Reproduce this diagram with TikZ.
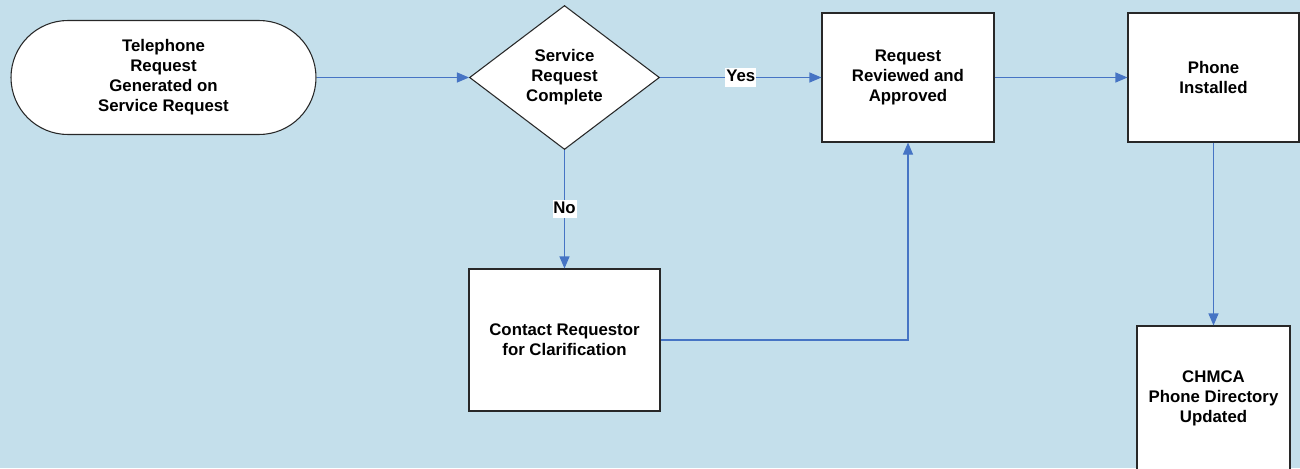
\documentclass[tikz,border=0pt]{standalone}
\usepackage{fontspec}
\setmainfont{Liberation Sans}
\usetikzlibrary{shapes.geometric,shapes.misc,arrows.meta}
\definecolor{bgblue}{RGB}{196,223,235}
\definecolor{linkblue}{RGB}{70,116,196}
\definecolor{edgegray}{RGB}{40,40,40}
\begin{document}
\begin{tikzpicture}[x=0.75pt,y=-0.75pt,
  every node/.style={font=\fontsize{12.6pt}{15pt}\selectfont\bfseries,align=center},
  shapebase/.style={draw=edgegray,line width=0.8pt,fill=white,inner sep=0pt},
  terminal/.style={shapebase,rounded rectangle,rounded rectangle arc length=180,
    minimum width=228.75pt,minimum height=85.5pt},
  decision/.style={shapebase,diamond,minimum width=142.5pt,minimum height=108pt},
  process/.style={shapebase,rectangle},
  link/.style={draw=linkblue,line width=0.8pt,-{Triangle[length=9pt,width=7.5pt]}},
  tag/.style={fill=white,inner xsep=0.6pt,inner ysep=0.6pt,text height=9.6pt,text depth=3pt}]
  % page background
  \fill[bgblue] (0,0) rectangle (1300,468);
  \useasboundingbox (0,0) rectangle (1300,468);

  % shapes
  \node[terminal] (start) at (163.5,77.5) {Telephone\\Request\\Generated on\\Service Request};
  \node[decision] (check) at (564.5,77.5) {Service\\Request\\Complete};
  \node[process,minimum width=129pt,minimum height=96.75pt] (review) at (908,77.5)
    {Request\\Reviewed and\\Approved};
  \node[process,minimum width=128.25pt,minimum height=96.75pt] (install) at (1213.5,77.5)
    {Phone\\Installed};
  \node[process,minimum width=143.25pt,minimum height=106.5pt] (contact) at (564.5,340)
    {Contact Requestor\\for Clarification};
  \node[process,minimum width=114.75pt,minimum height=108pt] (directory) at (1213.5,398)
    {CHMCA\\Phone Directory\\Updated};

  % connectors
  \draw[link] (start.east) -- (check.west);
  \draw[link] (check.east) -- node[tag] (yes) {Yes} (review.west);
  \draw[link] (review.east) -- (install.west);
  \draw[link] (install.south) -- (directory.north);
  \draw[link] (check.south) -- node[tag] (no) {No} (contact.north);
  \draw[link] (contact.east) -| (review.south);
\end{tikzpicture}
\end{document}
